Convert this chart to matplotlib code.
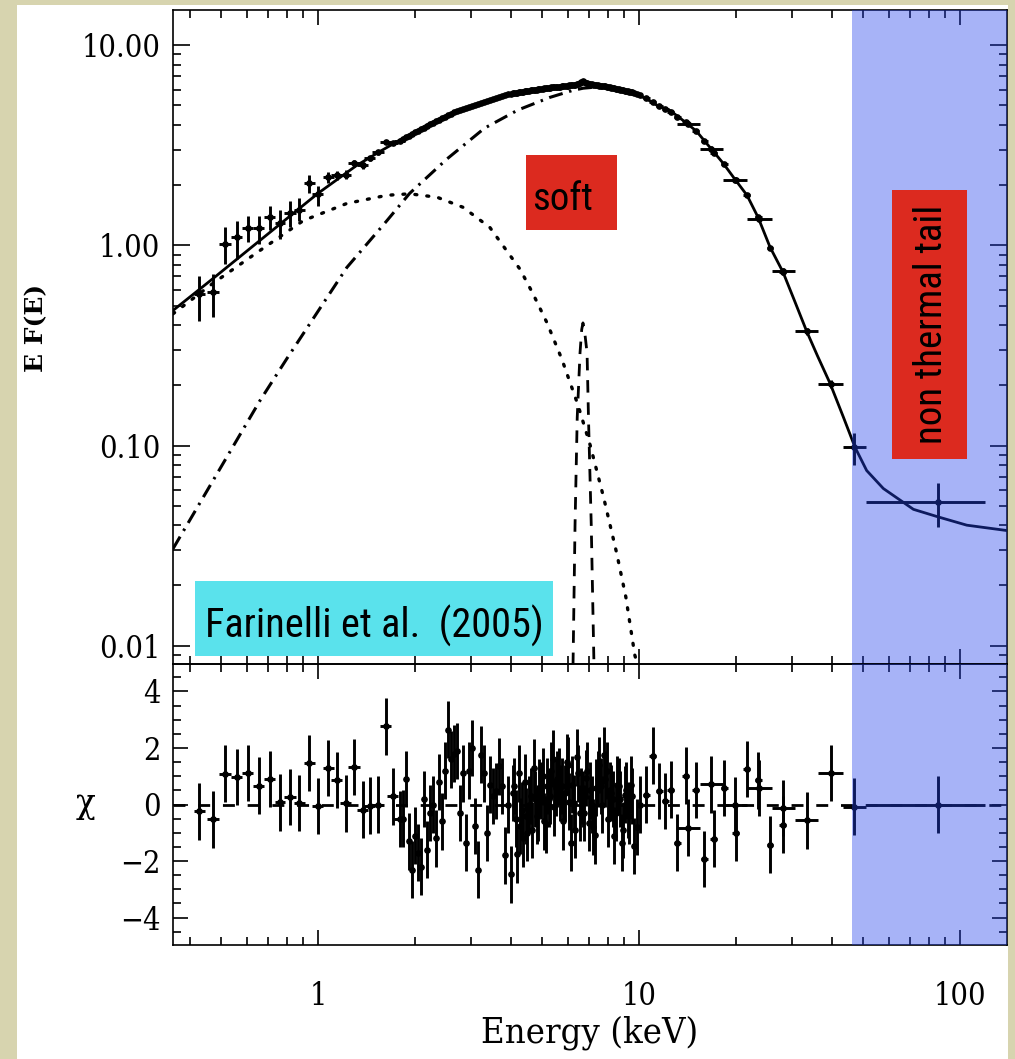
import numpy as np
import matplotlib
matplotlib.use("Agg")
import matplotlib.pyplot as plt
from matplotlib.patches import Rectangle
from matplotlib.ticker import LogLocator, FixedLocator, MultipleLocator, FuncFormatter, NullFormatter

# ---------------- spectrum: low-energy bins ----------------
e_low = [0.427, 0.471, 0.513, 0.558, 0.604, 0.655, 0.709, 0.762, 0.818, 0.875, 0.940,
         1.000, 1.077, 1.143, 1.220, 1.295, 1.378, 1.452, 1.540, 1.628, 1.710, 1.800]
e_low_hw = [0.017, 0.019, 0.021, 0.022, 0.024, 0.026, 0.028, 0.030, 0.033, 0.035, 0.038,
            0.040, 0.043, 0.046, 0.049, 0.052, 0.055, 0.058, 0.062, 0.065, 0.068, 0.072]
f_low = [0.569, 0.582, 1.02, 1.10, 1.22, 1.22, 1.38, 1.30, 1.445, 1.51, 2.04,
         1.80, 2.19, 2.24, 2.26, 2.57, 2.51, 2.72, 2.92, 3.30, 3.25, 3.33]
f_low_lo = [0.42, 0.437, 0.81, 0.86, 1.035, 1.02, 1.19, 1.08, 1.23, 1.32, 1.82,
            1.58, 2.04, 2.12, 2.15, 2.47, 2.42, 2.63, 2.84, 3.22, 3.17, 3.26]
f_low_hi = [0.70, 0.72, 1.23, 1.32, 1.41, 1.41, 1.58, 1.50, 1.66, 1.72, 2.24,
            1.99, 2.32, 2.36, 2.37, 2.67, 2.60, 2.81, 3.00, 3.38, 3.33, 3.40]
chi_low = [-0.24, -0.53, 1.09, 0.98, 1.12, 0.67, 0.91, 0.08, 0.26, 0.06, 1.47,
           -0.06, 1.29, 0.86, 0.04, 1.33, -0.18, -0.04, 0.0, 2.76, 0.29, -0.51]

# ---------------- spectrum: densely sampled 2-10 keV bins ----------------
e_mid = [1.840, 1.880, 1.920, 1.963, 2.005, 2.049, 2.093, 2.139, 2.185, 2.233,
         2.282, 2.331, 2.382, 2.434, 2.487, 2.541, 2.596, 2.653, 2.710, 2.770,
         2.830, 2.891, 2.954, 3.019, 3.084, 3.151, 3.220, 3.290, 3.361, 3.434,
         3.509, 3.585, 3.664, 3.743, 3.825, 3.908, 3.993, 4.080, 4.169, 4.259,
         4.352, 4.446, 4.543, 4.642, 4.743, 4.846, 4.951, 5.059, 5.169, 5.281,
         5.396, 5.513, 5.633, 5.756, 5.881, 6.009, 6.140, 6.273, 6.409, 6.549,
         6.691, 6.837, 6.985, 7.137, 7.293, 7.451, 7.613, 7.779, 7.948, 8.121,
         8.298, 8.478, 8.663, 8.851, 9.044, 9.240, 9.442, 9.647, 9.857, 10.07]
f_mid = [3.42, 3.48, 3.53, 3.60, 3.67, 3.74, 3.80, 3.88, 3.95, 4.03,
         4.10, 4.18, 4.25, 4.33, 4.40, 4.46, 4.55, 4.62, 4.68, 4.75,
         4.80, 4.86, 4.92, 4.98, 5.04, 5.10, 5.16, 5.22, 5.28, 5.34,
         5.40, 5.46, 5.52, 5.58, 5.63, 5.68, 5.72, 5.76, 5.79, 5.82,
         5.86, 5.90, 5.93, 5.96, 5.99, 6.02, 6.05, 6.08, 6.10, 6.13,
         6.16, 6.18, 6.20, 6.23, 6.25, 6.28, 6.31, 6.34, 6.38, 6.45,
         6.60, 6.50, 6.42, 6.38, 6.34, 6.30, 6.27, 6.24, 6.21, 6.16,
         6.12, 6.07, 6.02, 5.98, 5.93, 5.88, 5.83, 5.78, 5.72, 5.65]
chi_mid = [-0.5, 0.9, -1.3, -2.3, -1.1, -1.7, -2.2, 0.2, -1.6, -0.3,
           0.0, -1.2, 0.8, -0.6, 1.2, 2.65, 1.6, 1.8, 1.9, -0.3,
           1.1, -1.35, 1.2, 2.0, -0.76, -2.3, 1.76, 1.1, -1.0, 0.7,
           0.3, 0.47, 1.35, 0.65, -1.8, 0.0, -2.47, 0.65, -1.76, -0.76,
           -1.2, -0.4, 0.0, -0.9, 0.2, -0.3, 0.5, -0.6, 0.65, 0.3,
           1.62, 0.6, 1.0, 0.65, 0.4, 1.38, -1.35, 0.05, 1.67, -0.3,
           0.2, 0.94, -0.65, 0.0, -1.09, 0.9, 0.65, 1.74, 1.2, 0.5,
           0.2, -0.3, 0.65, -1.35, 0.35, -0.2, 0.7, -1.47, -0.8, 0.0]

# interleaved bins of the same instrument, 4-9.5 keV
e_mid2 = [4.036, 4.124, 4.214, 4.305, 4.399, 4.494, 4.592, 4.692, 4.794, 4.898,
          5.005, 5.114, 5.225, 5.338, 5.454, 5.573, 5.694, 5.818, 5.945, 6.074,
          6.206, 6.341, 6.478, 6.620, 6.763, 6.911, 7.060, 7.214, 7.372, 7.531,
          7.695, 7.863, 8.034, 8.209, 8.388, 8.570, 8.757, 8.947, 9.142, 9.340, 9.544]
f_mid2 = [5.74, 5.78, 5.81, 5.84, 5.88, 5.92, 5.95, 5.98, 6.01, 6.04,
          6.07, 6.09, 6.12, 6.15, 6.17, 6.19, 6.22, 6.24, 6.27, 6.30,
          6.33, 6.36, 6.42, 6.52, 6.56, 6.46, 6.40, 6.36, 6.32, 6.29,
          6.26, 6.23, 6.19, 6.14, 6.10, 6.05, 6.00, 5.96, 5.91, 5.86, 5.81]
chi_mid2 = [0.4, -0.5, 1.1, -0.2, 0.8, -1.0, 0.3, 1.3, -0.4, 0.6,
            1.0, -0.7, 0.2, 1.2, -0.1, 0.9, 0.4, -0.6, 1.5, 0.1,
            0.7, -0.9, 1.1, 0.3, -0.3, 1.2, 0.5, -0.8, 0.6, 1.4,
            0.0, 0.9, -0.5, 0.4, -1.1, 0.7, 0.2, -0.9, 0.5, -0.4, 0.3]

# ---------------- spectrum: 10-30 keV narrow bins ----------------
e_hx = [10.53, 11.03, 11.57, 12.07, 12.56, 13.14, 14.01, 15.05, 15.95, 17.09,
        18.41, 20.0, 21.67, 23.5, 25.6, 28.0]
e_hx_hw = [0.26, 0.28, 0.29, 0.30, 0.31, 0.33, 0.35, 0.38, 0.40, 0.43,
           0.46, 0.50, 0.54, 0.59, 0.64, 0.70]
f_hx = [5.45, 5.20, 4.95, 4.80, 4.62, 4.38, 4.12, 3.74, 3.34, 2.90,
        2.55, 2.12, 1.79, 1.39, 0.97, 0.735]
chi_hx = [0.35, 1.73, 0.47, 0.12, 0.53, -1.35, 1.02, 0.51, -1.92, -1.21,
          0.59, -1.0, 1.26, 0.85, -1.42, -0.71]

# ---------------- spectrum: hard X-ray wide bins ----------------
e_pds = [14.26, 16.82, 19.91, 23.73, 28.19, 33.26, 39.5, 46.9, 85.2]
e_pds_lo = [13.13, 15.49, 18.27, 21.70, 25.96, 30.62, 36.12, 43.2, 50.95]
e_pds_hi = [15.49, 18.27, 21.70, 25.96, 30.62, 36.12, 43.2, 50.95, 119.6]
f_pds = [4.06, 3.04, 2.13, 1.36, 0.741, 0.373, 0.203, 0.098, 0.052]
f_pds_lo = [3.96, 2.96, 2.07, 1.32, 0.715, 0.358, 0.193, 0.080, 0.039]
f_pds_hi = [4.16, 3.12, 2.19, 1.40, 0.767, 0.388, 0.213, 0.116, 0.065]
chi_pds = [-0.82, 0.71, -0.02, 0.59, -0.12, -0.56, 1.12, -0.08, 0.0]

# ---------------- model components ----------------
e_tot = [0.3534, 0.472, 0.66, 1.0, 1.32, 1.59, 1.84, 2.23, 2.63, 3.2, 3.9, 4.3, 5.0,
         5.5, 6.0, 6.35, 6.55, 6.69, 6.85, 7.1, 7.5, 8.0, 8.5, 9.0, 9.6, 10.5, 11.4,
         12.5, 14.1, 15.1, 16.6, 18.3, 19.9, 21.7, 23.5, 25.6, 28.1, 30.5, 33.3, 36.0,
         39.4, 43.3, 47.1, 51.2, 57.7, 71.6, 85.5, 105.0, 140.1]
f_tot = [0.473, 0.685, 1.06, 1.82, 2.51, 3.0, 3.43, 4.07, 4.62, 5.15, 5.68, 5.85, 6.08,
         6.18, 6.28, 6.36, 6.48, 6.62, 6.48, 6.38, 6.30, 6.20, 6.06, 5.92, 5.75, 5.42, 5.0,
         4.72, 4.07, 3.72, 3.10, 2.57, 2.14, 1.78, 1.38, 0.98, 0.735, 0.53, 0.372, 0.28,
         0.204, 0.139, 0.098, 0.075, 0.061, 0.048, 0.044, 0.040, 0.0376]

e_soft = [0.3534, 0.47, 0.66, 0.90, 1.23, 1.64, 1.93, 2.35, 2.83, 3.43, 4.26, 4.67,
          5.17, 5.75, 6.45, 7.05, 7.76, 8.52, 9.1, 9.7, 10.0]
f_soft = [0.455, 0.645, 0.944, 1.33, 1.62, 1.78, 1.81, 1.74, 1.55, 1.23, 0.76, 0.575,
          0.41, 0.27, 0.16, 0.10, 0.055, 0.029, 0.0175, 0.0090, 0.0075]

e_comp = [0.3534, 0.66, 0.80, 1.23, 1.64, 1.93, 2.52, 3.3, 4.2, 5.28, 6.22, 6.7,
          7.5, 8.5, 9.6, 10.0]
f_comp = [0.0305, 0.168, 0.272, 0.776, 1.33, 1.82, 2.70, 3.85, 4.75, 5.49, 5.95, 6.10,
          6.20, 6.02, 5.72, 5.58]

e_line = [6.23, 6.32, 6.42, 6.55, 6.63, 6.69, 6.76, 6.89, 6.96, 7.10, 7.24]
f_line = [0.008, 0.040, 0.138, 0.29, 0.38, 0.41, 0.38, 0.29, 0.138, 0.040, 0.008]

# start of the non-thermal tail band (keV)
tail_start = 46.1

x_range = (0.3534, 140.1)
flux_range = (0.0081, 15.0)
chi_range = (-4.97, 4.97)

# ---------------- figure ----------------
plt.rcParams["font.family"] = ["DejaVu Serif"]
plt.rcParams["font.stretch"] = "condensed"
plt.rcParams["axes.linewidth"] = 1.2

W, H = 1015, 1059
fig = plt.figure(figsize=(W / 100, H / 100), dpi=100)
fig.patch.set_facecolor("#d7d4af")
fig.patches.append(Rectangle((17 / W, 0), (1008 - 17) / W, (H - 5) / H,
                             transform=fig.transFigure, facecolor="white",
                             edgecolor="none", zorder=-10))

left, width = 173 / W, (1007 - 173) / W
ax1 = fig.add_axes([left, (H - 664) / H, width, 654 / H])
ax2 = fig.add_axes([left, (H - 945) / H, width, 281 / H], sharex=ax1)
for ax in (ax1, ax2):
    ax.set_facecolor("none")

shade = (35 / 255, 67 / 255, 237 / 255)
ebar = dict(fmt="o", ms=3.8, color="k", ecolor="k", elinewidth=2.1, capsize=0, zorder=2)

# ---- upper panel: unfolded spectrum ----
ax1.plot(e_soft, f_soft, color="k", lw=2.4, ls=(0, (0.6, 3.0)), dash_capstyle="round", zorder=1)
ax1.plot(e_comp, f_comp, color="k", lw=2.2, ls=(0, (4.6, 2.2, 0.8, 2.2)), zorder=1)
ax1.plot(e_line, f_line, color="k", lw=2.0, ls=(0, (4.5, 3.5)), zorder=1)
ax1.plot(e_tot, f_tot, color="k", lw=2.0, zorder=1.5)

e_low_a, f_low_a = np.array(e_low), np.array(f_low)
ax1.errorbar(e_low_a, f_low_a, xerr=e_low_hw,
             yerr=[f_low_a - np.array(f_low_lo), np.array(f_low_hi) - f_low_a], **ebar)
ax1.errorbar(e_mid, f_mid, yerr=[np.array(f_mid) * 0.015] * 2, **ebar)
ax1.errorbar(e_mid2, f_mid2, yerr=[np.array(f_mid2) * 0.015] * 2, **ebar)
ax1.errorbar(e_hx, f_hx, xerr=e_hx_hw, yerr=[np.array(f_hx) * 0.02] * 2, **ebar)
e_pds_a, f_pds_a = np.array(e_pds), np.array(f_pds)
ax1.errorbar(e_pds_a, f_pds_a,
             xerr=[e_pds_a - np.array(e_pds_lo), np.array(e_pds_hi) - e_pds_a],
             yerr=[f_pds_a - np.array(f_pds_lo), np.array(f_pds_hi) - f_pds_a], **ebar)

ax1.axvspan(tail_start, x_range[1], color=shade, alpha=0.4, lw=0, zorder=3)

ax1.set_xscale("log")
ax1.set_yscale("log")
ax1.set_xlim(*x_range)
ax1.set_ylim(*flux_range)
ax1.yaxis.set_major_locator(FixedLocator([0.01, 0.1, 1.0, 10.0]))
ax1.yaxis.set_minor_locator(LogLocator(base=10, subs=np.arange(2, 10)))
ax1.yaxis.set_major_formatter(FuncFormatter(lambda v, p: "%.2f" % v))
ax1.yaxis.set_minor_formatter(NullFormatter())

# ---- lower panel: residuals ----
ax2.axhline(0, color="k", lw=2.0, ls=(0, (4.3, 4.6)), zorder=1)
rbar = dict(ebar)
ax2.errorbar(e_low, chi_low, xerr=e_low_hw, yerr=1.0, **rbar)
ax2.errorbar(e_mid, chi_mid, yerr=1.0, **rbar)
ax2.errorbar(e_mid2, chi_mid2, yerr=1.0, **rbar)
ax2.errorbar(e_hx, chi_hx, xerr=e_hx_hw, yerr=1.0, **rbar)
ax2.errorbar(e_pds, chi_pds,
             xerr=[e_pds_a - np.array(e_pds_lo), np.array(e_pds_hi) - e_pds_a],
             yerr=1.0, **rbar)
ax2.axvspan(tail_start, x_range[1], color=shade, alpha=0.4, lw=0, zorder=3)

ax2.set_ylim(*chi_range)
ax2.yaxis.set_major_locator(FixedLocator([-4, -2, 0, 2, 4]))
ax2.yaxis.set_minor_locator(MultipleLocator(0.5))
ax2.yaxis.set_major_formatter(FuncFormatter(lambda v, p: ("%d" % v).replace("-", "\u2212")))

ax2.xaxis.set_major_locator(FixedLocator([1, 10, 100]))
ax2.xaxis.set_minor_locator(LogLocator(base=10, subs=np.arange(2, 10)))
ax2.xaxis.set_major_formatter(FuncFormatter(lambda v, p: "%g" % v))
ax2.xaxis.set_minor_formatter(NullFormatter())

for ax in (ax1, ax2):
    ax.tick_params(which="both", direction="in", top=True, right=True,
                   width=1.2, labelsize=22, pad=9)
    ax.tick_params(which="major", length=11)
    ax.tick_params(which="minor", length=5.5)
ax1.tick_params(axis="x", which="both", labelbottom=False)
ax1.tick_params(axis="y", which="major", length=12)
ax2.tick_params(axis="x", which="major", pad=26)

# ---- axis titles ----
fig.text(36 / W, 1 - 328 / H, "E F(E)", rotation=90, ha="center", va="center",
         fontsize=18, fontweight="bold", fontstretch="normal")
fig.text(85 / W, 1 - 803 / H, "\u03c7", ha="center", va="center", fontsize=26)
fig.text(590 / W, 1 - 1033 / H, "Energy (keV)", ha="center", va="center", fontsize=26)

# ---- annotation boxes ----
box_font = ["Roboto Condensed", "Open Sans Condensed", "DejaVu Sans"]
ax1.add_patch(Rectangle((0.4233, 0.6636), 0.1091, 0.1147, transform=ax1.transAxes,
                        facecolor="#dc2a1f", edgecolor="none", zorder=5))
ax1.text(0.467, 0.694, "soft", transform=ax1.transAxes, ha="center", va="baseline",
         fontsize=28, family=box_font, fontstretch="condensed", color="black", zorder=6)

ax1.add_patch(Rectangle((0.0264, 0.0122), 0.4292, 0.1147, transform=ax1.transAxes,
                        facecolor="#5ae2ec", edgecolor="none", zorder=5))
ax1.text(0.0384, 0.0398, "Farinelli et al.  (2005)", transform=ax1.transAxes,
         ha="left", va="baseline", fontsize=29, family=box_font,
         fontstretch="condensed", color="black", zorder=6)

ax1.add_patch(Rectangle((0.862, 0.3135), 0.090, 0.4113, transform=ax1.transAxes,
                        facecolor="#dc2a1f", edgecolor="none", zorder=5))
ax1.text(0.909, 0.519, "non thermal tail", transform=ax1.transAxes, rotation=90,
         ha="center", va="center", fontsize=28, family=box_font,
         fontstretch="condensed", color="black", zorder=6)

fig.savefig("out.png", dpi=100, facecolor=fig.get_facecolor())
